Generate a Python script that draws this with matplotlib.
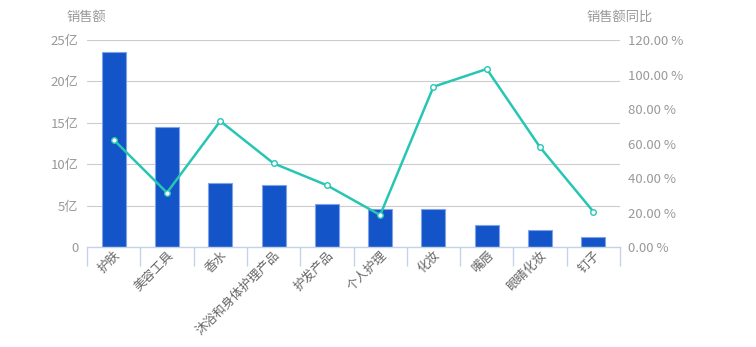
import matplotlib
matplotlib.use("Agg")
import matplotlib.pyplot as plt
from matplotlib.ticker import FixedLocator, FuncFormatter
import numpy as np

plt.rcParams['font.family'] = ['Noto Sans CJK SC', 'DejaVu Sans']

categories = ['护肤', '美容工具', '香水', '沐浴和身体护理产品', '护发产品',
              '个人护理', '化妆', '嘴唇', '眼睛化妆', '钉子']
sales = [23.55, 14.5, 7.7, 7.45, 5.2, 4.6, 4.55, 2.6, 2.1, 1.15]  # 亿
yoy = [62.2, 31.5, 73.0, 48.5, 35.8, 18.5, 92.9, 103.2, 57.8, 20.5]  # %

bar_color = '#1354c8'
line_color = '#27c6b4'
grid_color = '#cccccc'
label_gray = '#999999'

fig = plt.figure(figsize=(7.56, 3.47), dpi=100)
ax = fig.add_axes([87 / 756, 1 - 247 / 347, 533 / 756, 207 / 347])
ax2 = ax.twinx()

x = np.arange(len(categories))
ax.bar(x, sales, width=0.45, color=bar_color, edgecolor='#7fa3e6',
       linewidth=0.8, zorder=2)
ax.set_xlim(-0.5, len(categories) - 0.5)
ax.set_ylim(0, 25)
ax.set_yticks([0, 5, 10, 15, 20, 25])
ax.yaxis.set_major_formatter(FuncFormatter(lambda v, p: '0' if v == 0 else f'{v:.0f}亿'))
ax.grid(axis='y', color=grid_color, linewidth=0.8, zorder=0)
ax.set_axisbelow(True)

ax2.plot(x, yoy, color=line_color, linewidth=1.8, marker='o', markersize=4,
         markerfacecolor='white', markeredgecolor=line_color,
         markeredgewidth=1.0, zorder=3)
ax2.set_ylim(0, 120)
ax2.set_yticks([0, 20, 40, 60, 80, 100, 120])
ax2.yaxis.set_major_formatter(FuncFormatter(lambda v, p: f'{v:.2f} %'))

for a in (ax, ax2):
    for s in ('top', 'left', 'right', 'bottom'):
        a.spines[s].set_visible(False)
    a.tick_params(axis='y', length=0, colors=label_gray, labelsize=9.5, pad=6)

ax.spines['bottom'].set_visible(True)
ax.spines['bottom'].set_color('#c5d3ea')
ax.spines['bottom'].set_linewidth(1.0)

# category boundary ticks, labels at category centers
ax.xaxis.set_major_locator(FixedLocator(np.arange(-0.5, len(categories), 1.0)))
ax.xaxis.set_major_formatter(FuncFormatter(lambda v, p: ''))
ax.xaxis.set_minor_locator(FixedLocator(x))
ax.set_xticklabels(categories, minor=True, rotation=45, ha='right',
                   rotation_mode='anchor', fontsize=9, color='#666666')
ax.tick_params(axis='x', which='major', length=14, color='#c5d3ea', width=1.0)
ax.tick_params(axis='x', which='minor', length=0, pad=1)

fig.text(86 / 756, 1 - 17 / 347, '销售额', ha='center', va='center',
         fontsize=9.5, color=label_gray)
fig.text(620 / 756, 1 - 17 / 347, '销售额同比', ha='center', va='center',
         fontsize=9.5, color=label_gray)

fig.savefig('out.png', dpi=100)
